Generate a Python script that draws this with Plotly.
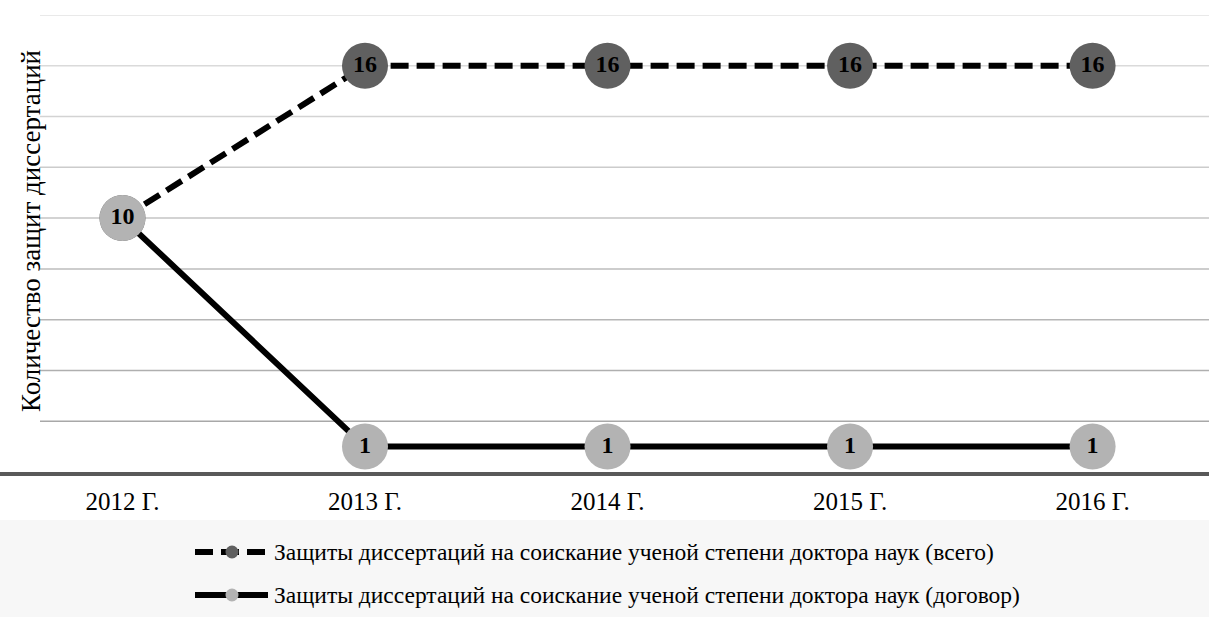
import plotly.graph_objects as go

years = ["2012 Г.", "2013 Г.", "2014 Г.", "2015 Г.", "2016 Г."]
total = [10, 16, 16, 16, 16]
contract = [10, 1, 1, 1, 1]
name_total = "Защиты диссертаций на соискание ученой степени доктора наук (всего)"
name_contract = "Защиты диссертаций на соискание ученой степени доктора наук (договор)"
y_title = "Количество защит диссертаций"
grid_values = [2, 4, 6, 8, 10, 12, 14, 16, 18]

FONT = "Liberation Serif"
W, H = 1209, 617
T, B = 15, 145
PH = H - T - B
DARK, LIGHT = "#606060", "#b3b3b3"
DASH = "18px,8px"

fig = go.Figure()
fig.add_trace(go.Scatter(
    x=years, y=total, name=name_total, mode="lines+markers+text",
    line=dict(color="#000000", width=6, dash=DASH),
    marker=dict(size=46, color=DARK),
    text=[str(v) for v in total], textposition="middle center",
    textfont=dict(family=FONT, size=24, color="#000000", weight="bold"),
    showlegend=False,
))
fig.add_trace(go.Scatter(
    x=years, y=contract, name=name_contract, mode="lines+markers+text",
    line=dict(color="#000000", width=6),
    marker=dict(size=46, color=LIGHT),
    text=[str(v) for v in contract], textposition="middle center",
    textfont=dict(family=FONT, size=24, color="#000000", weight="bold"),
    showlegend=False,
))


def px_x(px):
    return px / W


def px_y(py):
    return (H - B - py) / PH


shapes = [dict(type="rect", xref="paper", yref="paper", x0=-0.01, x1=1.01,
               y0=px_y(H + 5), y1=px_y(520), fillcolor="#f7f7f7", line=dict(width=0),
               layer="below")]
n = len(grid_values)
for i, g in enumerate(grid_values):
    t = i / (n - 1)
    c = int(0xa8 + (0xe2 - 0xa8) * t)
    shapes.append(dict(type="line", xref="paper", yref="y", x0=px_x(40), x1=1.0,
                       y0=g, y1=g, line=dict(color=f"rgb({c},{c},{c})", width=1.5),
                       layer="below"))

annotations = [dict(text=y_title, xref="paper", yref="paper", x=px_x(31), y=px_y(231),
                    xanchor="center", yanchor="middle", textangle=-90, showarrow=False,
                    font=dict(family=FONT, size=27, color="#000000"))]

# custom legend
legend_rows = [(name_total, DASH, DARK, 552), (name_contract, "solid", LIGHT, 595)]
for name, dash, color, cy in legend_rows:
    shapes.append(dict(type="line", xref="paper", yref="paper",
                       x0=px_x(195), x1=px_x(268), y0=px_y(cy), y1=px_y(cy),
                       line=dict(color="#000000", width=6, dash=dash)))
    shapes.append(dict(type="circle", xref="paper", yref="paper",
                       x0=px_x(225.5), x1=px_x(238.5), y0=px_y(cy + 6.5), y1=px_y(cy - 6.5),
                       fillcolor=color, line=dict(width=0)))
    annotations.append(dict(text=name, xref="paper", yref="paper", x=px_x(272), y=px_y(cy),
                            xanchor="left", yanchor="middle", showarrow=False,
                            font=dict(family=FONT, size=23.5, color="#000000")))

fig.update_layout(
    width=W, height=H,
    margin=dict(l=0, r=0, t=T, b=B),
    paper_bgcolor="#ffffff", plot_bgcolor="#ffffff",
    font=dict(family=FONT, color="#000000"),
    showlegend=False,
    xaxis=dict(type="category", range=[-0.505, 4.48], showgrid=False, zeroline=False,
               showline=True, linecolor="#595959", linewidth=3.5, ticks="",
               tickfont=dict(family=FONT, size=25, color="#000000"),
               ticklabelstandoff=4),
    yaxis=dict(range=[0, 18], showgrid=False, zeroline=False, showticklabels=False,
               showline=False, ticks=""),
    shapes=shapes,
    annotations=annotations,
)

fig.write_html("out.html", config={"displayModeBar": False},
               post_script="document.body.style.margin='0';document.body.style.padding='0';")
